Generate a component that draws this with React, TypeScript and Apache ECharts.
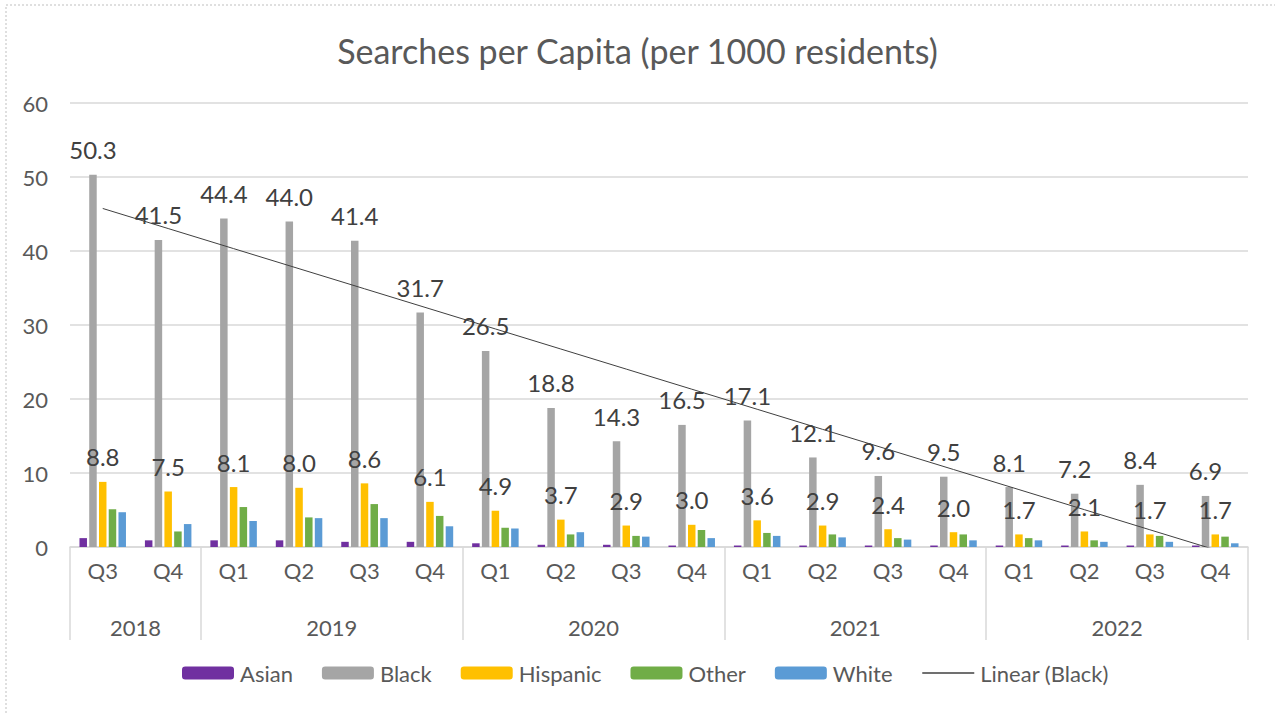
import React, { useEffect, useRef } from "react";
import * as echarts from "echarts";

const quarters = ["Q3","Q4","Q1","Q2","Q3","Q4","Q1","Q2","Q3","Q4","Q1","Q2","Q3","Q4","Q1","Q2","Q3","Q4"];
const years = ["2018","2019","2020","2021","2022"];
const yearCenters = [1, 4, 8, 12, 16];
const yearBounds = [0, 2, 6, 10, 14, 18];

const asian = [1.2,0.9,0.9,0.9,0.7,0.7,0.5,0.3,0.3,0.2,0.2,0.2,0.2,0.2,0.2,0.2,0.2,0.2];
const black = [50.3,41.5,44.4,44.0,41.4,31.7,26.5,18.8,14.3,16.5,17.1,12.1,9.6,9.5,8.1,7.2,8.4,6.9];
const hispanic = [8.8,7.5,8.1,8.0,8.6,6.1,4.9,3.7,2.9,3.0,3.6,2.9,2.4,2.0,1.7,2.1,1.7,1.7];
const other = [5.1,2.1,5.4,4.0,5.8,4.2,2.6,1.7,1.5,2.3,1.9,1.7,1.2,1.7,1.2,0.9,1.5,1.4];
const white = [4.7,3.1,3.5,3.9,3.9,2.8,2.5,2.0,1.4,1.2,1.5,1.3,1.0,0.9,0.9,0.7,0.7,0.5];

function linearTrend(ys: number[]): number[] {
  const n = ys.length;
  const mx = (n - 1) / 2;
  const my = ys.reduce((a, b) => a + b, 0) / n;
  let sxy = 0, sxx = 0;
  ys.forEach((y, i) => { sxy += (i - mx) * (y - my); sxx += (i - mx) * (i - mx); });
  const b = sxy / sxx;
  return ys.map((_, i) => +(my + b * (i - mx)).toFixed(3));
}

const FONT = "Lato";
const TXT = "#595959";

export default function App() {
  const ref = useRef<HTMLDivElement>(null);
  useEffect(() => {
    const chart = echarts.init(ref.current!, null, { renderer: "svg" });
    const label = {
      show: true, position: "top", distance: 13,
      fontFamily: FONT, fontSize: 24, color: "#404040",
      formatter: (p: any) => p.value.toFixed(1),
    };
    const bar = (name: string, data: number[], color: string, lbl?: any) => ({
      name, type: "bar", data, barWidth: 7.5, barGap: "30%",
      itemStyle: { color }, label: lbl, xAxisIndex: 0, yAxisIndex: 0,
    });
    chart.setOption({
      animation: false,
      backgroundColor: "#fff",
      title: {
        text: "Searches per Capita (per 1000 residents)",
        left: "center", top: 28,
        textStyle: { fontFamily: FONT, fontSize: 34, fontWeight: "normal", color: TXT },
      },
      graphic: [{
        type: "rect", shape: { x: 6, y: 5, width: 1400, height: 900 }, silent: true,
        style: { fill: "none", stroke: "#bfbfbf", lineWidth: 1, lineDash: [2, 2] },
      }],
      legend: {
        bottom: 24, left: 177, itemWidth: 52, itemHeight: 13, itemGap: 29,
        textStyle: { fontFamily: FONT, fontSize: 22, color: TXT, padding: [0, 0, 0, 1] },
        data: ["Asian", "Black", "Hispanic", "Other", "White",
          { name: "Linear (Black)", itemStyle: { opacity: 0 }, lineStyle: { color: "#404040", width: 1.5, opacity: 1 } }],
      },
      grid: { left: 70, right: 27, top: 103, bottom: 166, containLabel: false },
      xAxis: [
        {
          type: "category", data: quarters, position: "bottom",
          axisLine: { lineStyle: { color: "#d9d9d9", width: 1.5 } },
          axisTick: { show: false },
          axisLabel: { fontFamily: FONT, fontSize: 22, color: TXT, margin: 12, interval: 0 },
        },
        {
          type: "value", min: 0, max: 18, position: "bottom",
          splitLine: { show: false },
          axisLine: { show: false },
          axisTick: { show: true, customValues: yearBounds, length: 93, lineStyle: { color: "#d9d9d9", width: 1.5 } },
          axisLabel: {
            customValues: yearCenters, margin: 69,
            fontFamily: FONT, fontSize: 22, color: TXT,
            formatter: (v: number) => years[yearCenters.indexOf(v)] ?? "",
          },
        },
      ],
      yAxis: {
        type: "value", min: 0, max: 60, interval: 10,
        axisLine: { show: false }, axisTick: { show: false },
        splitLine: { lineStyle: { color: "#d9d9d9", width: 1.5 } },
        axisLabel: { fontFamily: FONT, fontSize: 22, color: TXT, margin: 22 },
      },
      series: [
        bar("Asian", asian, "#7030A0"),
        bar("Black", black, "#A5A5A5", label),
        bar("Hispanic", hispanic, "#FFC000", label),
        bar("Other", other, "#70AD47"),
        bar("White", white, "#5B9BD5"),
        {
          name: "Linear (Black)", type: "line", data: linearTrend(black),
          symbol: "none", lineStyle: { color: "#404040", width: 1 }, itemStyle: { color: "#404040" },
          xAxisIndex: 0, yAxisIndex: 0, z: 5,
        },
      ],
    });
    return () => chart.dispose();
  }, []);
  return <div ref={ref} style={{ position: "fixed", left: 0, top: 0, width: 1275, height: 713 }} />;
}
